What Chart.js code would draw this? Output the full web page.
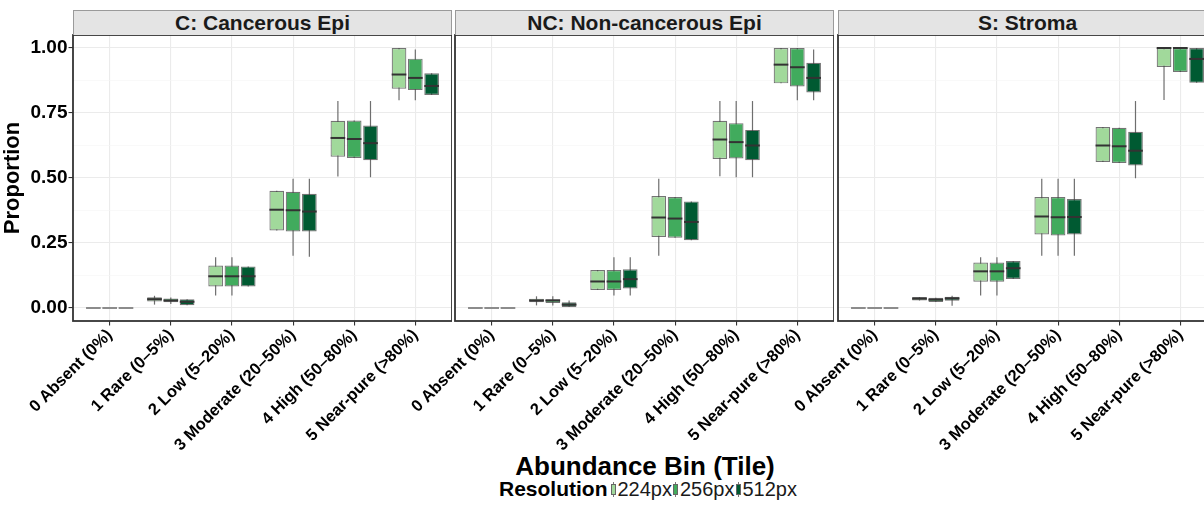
<!DOCTYPE html>
<html>
<head>
<meta charset="utf-8">
<script src="https://cdn.jsdelivr.net/npm/chart.js@4.4.1/dist/chart.umd.min.js"></script>
<style>
    body { margin: 0; background: #fff; width: 1204px; height: 506px; overflow: hidden; position: relative;
           font-family: "Liberation Sans", Arial, sans-serif; }
    canvas { position: absolute; top: 0; }
    .strip { position: absolute; top: 10px; height: 25px; box-sizing: border-box; background: #e4e4e4;
             border: 1px solid #9a9a9a; border-bottom: none; text-align: center; font-weight: bold;
             font-size: 21px; line-height: 24px; color: #1a1a1a; white-space: nowrap; }
    #xtitle { position: absolute; left: 73px; width: 1144px; top: 451px; text-align: center;
              font-weight: bold; font-size: 26px; color: #000; }
    #legend { position: absolute; left: 499px; top: 478px; height: 22px; display: flex; align-items: center;
              font-size: 20px; color: #1a1a1a; white-space: nowrap; }
    #legend b { font-size: 21px; margin-right: 2px; color: #000; }
    .key { position: relative; display: inline-block; width: 5px; height: 15px; margin: 0 2px 0 1px; }
    .key .wh { position: absolute; left: 2px; top: 0; width: 1px; height: 15px; background: #777; }
    .key .bx { position: absolute; left: 0; top: 2px; width: 5px; height: 11px; box-sizing: border-box;
               border: 1px solid #666; }
</style>
</head>
<body>
<div id="xtitle">Abundance Bin (Tile)</div>
<div id="legend"></div>
<script>
    const categories = ['0 Absent (0%)', '1 Rare (0–5%)', '2 Low (5–20%)', '3 Moderate (20–50%)',
                        '4 High (50–80%)', '5 Near-pure (>80%)'];
    const resolutions = ['224px', '256px', '512px'];
    const panelTitles = ['C: Cancerous Epi', 'NC: Non-cancerous Epi', 'S: Stroma'];
    const yMajor = [0, 0.25, 0.5, 0.75, 1];
    const yMinor = [0.125, 0.375, 0.625, 0.875];

    // each row: [lower whisker, q1, median, q3, upper whisker]
    const c224 = [[0, 0, 0, 0, 0], [0.013, 0.025, 0.034, 0.041, 0.047], [0.048, 0.083, 0.122, 0.163, 0.195],
                  [0.298, 0.298, 0.378, 0.451, 0.451], [0.506, 0.582, 0.654, 0.720, 0.796], [0.799, 0.843, 0.898, 1.0, 1.0]];
    const c256 = [[0, 0, 0, 0, 0], [0.015, 0.022, 0.029, 0.037, 0.040], [0.048, 0.083, 0.122, 0.163, 0.195],
                  [0.201, 0.294, 0.376, 0.447, 0.497], [0.577, 0.577, 0.650, 0.721, 0.721], [0.799, 0.838, 0.885, 0.959, 0.994]];
    const c512 = [[0, 0, 0, 0, 0], [0.011, 0.011, 0.024, 0.034, 0.034], [0.083, 0.083, 0.122, 0.160, 0.160],
                  [0.197, 0.294, 0.371, 0.439, 0.497], [0.503, 0.568, 0.634, 0.702, 0.796], [0.819, 0.819, 0.854, 0.903, 0.903]];

    const nc224 = [[0, 0, 0, 0, 0], [0.010, 0.022, 0.029, 0.036, 0.045], [0.069, 0.069, 0.102, 0.146, 0.146],
                   [0.201, 0.273, 0.348, 0.431, 0.497], [0.507, 0.573, 0.648, 0.720, 0.796], [0.864, 0.864, 0.936, 1.0, 1.0]];
    const nc256 = [[0, 0, 0, 0, 0], [0.010, 0.019, 0.029, 0.034, 0.045], [0.048, 0.069, 0.102, 0.146, 0.195],
                   [0.270, 0.270, 0.344, 0.427, 0.427], [0.503, 0.575, 0.638, 0.711, 0.796], [0.799, 0.852, 0.926, 1.0, 1.0]];
    const nc512 = [[0, 0, 0, 0, 0], [0.004, 0.004, 0.013, 0.022, 0.029], [0.048, 0.075, 0.111, 0.149, 0.195],
                   [0.261, 0.261, 0.331, 0.410, 0.410], [0.503, 0.568, 0.625, 0.685, 0.796], [0.799, 0.829, 0.885, 0.943, 0.994]];

    const s224 = [[0, 0, 0, 0, 0], [0.029, 0.029, 0.036, 0.042, 0.042], [0.048, 0.101, 0.141, 0.175, 0.195],
                  [0.201, 0.283, 0.352, 0.427, 0.497], [0.562, 0.562, 0.625, 0.696, 0.696], [0.800, 0.927, 1.0, 1.0, 1.0]];
    const s256 = [[0, 0, 0, 0, 0], [0.023, 0.023, 0.032, 0.039, 0.039], [0.048, 0.101, 0.141, 0.175, 0.195],
                  [0.201, 0.279, 0.349, 0.427, 0.497], [0.558, 0.558, 0.622, 0.693, 0.693], [0.908, 0.908, 1.0, 1.0, 1.0]];
    const s512 = [[0, 0, 0, 0, 0], [0.009, 0.028, 0.037, 0.043, 0.047], [0.112, 0.112, 0.153, 0.181, 0.181],
                  [0.201, 0.283, 0.350, 0.419, 0.497], [0.499, 0.548, 0.605, 0.678, 0.796], [0.866, 0.866, 0.958, 1.0, 1.0]];

    const panelData = [[c224, c256, c512], [nc224, nc256, nc512], [s224, s256, s512]];
    const colors = ['#a1d99b', '#41ab5d', '#005a32'];

    // layout of the three panels (plot area left edge, width)
    const plotLeft = [73, 455, 838];
    const plotWidth = 379;
    const axisSpace = 80;
    const canvasHeight = 480;
    const plotBottom = 321;

    const boxPlot = {
        id: 'boxPlot',
        beforeDatasetsDraw(chart) {
            const ctx = chart.ctx, y = chart.scales.y;
            ctx.save();
            ctx.strokeStyle = '#6e6e6e';
            ctx.lineWidth = 1.2;
            chart.data.datasets.forEach((ds, di) => {
                chart.getDatasetMeta(di).data.forEach((bar, i) => {
                    const s = ds.stats[i];
                    if (s[4] === s[0]) return;
                    ctx.beginPath();
                    ctx.moveTo(bar.x, y.getPixelForValue(s[0]));
                    ctx.lineTo(bar.x, y.getPixelForValue(s[4]));
                    ctx.stroke();
                });
            });
            ctx.restore();
        },
        afterDatasetsDraw(chart) {
            const ctx = chart.ctx, y = chart.scales.y;
            ctx.save();
            ctx.lineWidth = 2;
            chart.data.datasets.forEach((ds, di) => {
                chart.getDatasetMeta(di).data.forEach((bar, i) => {
                    const s = ds.stats[i];
                    const py = y.getPixelForValue(s[2]);
                    ctx.strokeStyle = s[3] === s[1] ? '#8c8c8c' : '#333';
                    ctx.beginPath();
                    ctx.moveTo(bar.x - bar.width / 2, py);
                    ctx.lineTo(bar.x + bar.width / 2, py);
                    ctx.stroke();
                });
            });
            ctx.restore();
        },
        afterDraw(chart) {
            const ctx = chart.ctx, a = chart.chartArea;
            ctx.save();
            ctx.strokeStyle = '#333';
            ctx.lineWidth = 1.8;
            ctx.strokeRect(a.left, a.top, a.right - a.left, a.bottom - a.top);
            ctx.restore();
        }
    };

    function makePanel(p) {
        const first = p === 0;
        const canvas = document.createElement('canvas');
        const left = first ? 0 : plotLeft[p] - axisSpace;
        const yWidth = first ? plotLeft[0] : axisSpace;
        canvas.width = yWidth + plotWidth;
        canvas.height = canvasHeight;
        canvas.style.left = left + 'px';
        document.body.appendChild(canvas);

        const strip = document.createElement('div');
        strip.className = 'strip';
        strip.style.left = plotLeft[p] + 'px';
        strip.style.width = plotWidth + 'px';
        strip.textContent = panelTitles[p];
        document.body.appendChild(strip);

        const datasets = resolutions.map((r, k) => ({
            label: r,
            stats: panelData[p][k],
            data: panelData[p][k].map((s, i) => ({ x: i, y: [s[1], s[3]] })),
            backgroundColor: colors[k],
            borderColor: 'rgba(70,70,70,0.75)',
            borderWidth: 1.2,
            borderSkipped: false,
            categoryPercentage: 0.8,
            barPercentage: 0.9
        }));

        new Chart(canvas, {
            type: 'bar',
            data: { datasets },
            plugins: [boxPlot],
            options: {
                responsive: false,
                animation: false,
                events: [],
                layout: { padding: { top: 35, right: 0, left: 0, bottom: 0 } },
                plugins: { legend: { display: false }, tooltip: { enabled: false } },
                scales: {
                    x: {
                        type: 'linear',
                        min: -0.6,
                        max: 5.6,
                        offset: false,
                        afterBuildTicks: s => { s.ticks = categories.map((c, i) => ({ value: i })); },
                        afterFit: s => { s.height = canvasHeight - plotBottom; s.paddingLeft = 0; s.paddingRight = 0; },
                        border: { display: false },
                        grid: { offset: false, color: '#ebebeb', lineWidth: 1.1, tickColor: '#333', tickLength: 4.5 },
                        ticks: {
                            autoSkip: false,
                            minRotation: 45,
                            maxRotation: 45,
                            padding: 0,
                            color: '#000',
                            font: { family: '"Liberation Sans", Arial, sans-serif', size: 16.5, weight: 'bold' },
                            callback: v => categories[v]
                        }
                    },
                    y: {
                        min: -0.05,
                        max: 1.05,
                        afterBuildTicks: s => {
                            s.ticks = yMajor.concat(yMinor).sort((a, b) => a - b).map(v => ({ value: v }));
                        },
                        afterFit: s => { s.width = yWidth; },
                        border: { display: false },
                        grid: {
                            drawTicks: first,
                            tickLength: 4.5,
                            color: c => yMajor.includes(c.tick.value) ? '#ebebeb' : '#f5f5f5',
                            lineWidth: c => yMajor.includes(c.tick.value) ? 1.1 : 0.6,
                            tickColor: c => yMajor.includes(c.tick.value) ? '#333' : 'rgba(0,0,0,0)'
                        },
                        ticks: {
                            display: first,
                            padding: 1,
                            color: '#000',
                            font: { family: '"Liberation Sans", Arial, sans-serif', size: 19, weight: 'bold' },
                            callback: v => yMajor.includes(v) ? v.toFixed(2) : ''
                        },
                        title: {
                            display: first,
                            text: 'Proportion',
                            color: '#000',
                            padding: 0,
                            font: { family: '"Liberation Sans", Arial, sans-serif', size: 22, weight: 'bold' }
                        }
                    }
                }
            }
        });
    }

    panelTitles.forEach((t, p) => makePanel(p));

    const legend = document.getElementById('legend');
    legend.innerHTML = '<b>Resolution</b>' + resolutions.map((r, k) =>
        `<span class="key"><span class="wh"></span><span class="bx" style="background:${colors[k]}"></span></span><span>${r}</span>`
    ).join('');
</script>
</body>
</html>
